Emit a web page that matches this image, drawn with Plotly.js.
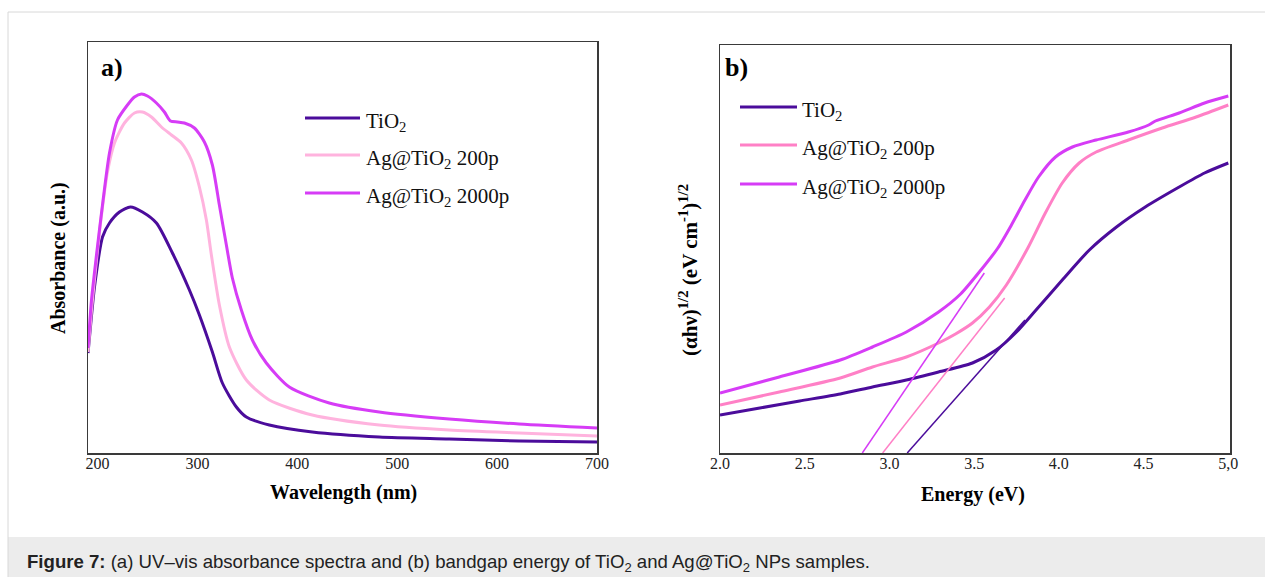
<!DOCTYPE html>
<html>
<head>
<meta charset="utf-8">
<script src="https://cdn.plot.ly/plotly-3.0.1.min.js"></script>
<style>html,body{margin:0;padding:0;background:#fff;}#chart{width:1265px;height:577px;}</style>
</head>
<body>
<div id="chart"></div>
<script>
// ---- Panel a: UV-vis absorbance (a.u.) ----
const wlTiO2 = [190.5,192,197,205,212,222,233,245,259,275,292,302,315,325,339,349,372,415,482,552,622,700];
const absTiO2 = [1.00,1.16,1.66,2.16,2.30,2.41,2.46,2.41,2.30,2.00,1.63,1.38,1.01,0.70,0.46,0.36,0.28,0.21,0.16,0.14,0.12,0.11];

const wl200 = [190.5,194,199,204,210,217,227,237,245,254,264,274,284,294,302,309,314,322,332,349,372,415,482,552,622,700];
const abs200 = [1.01,1.43,1.93,2.38,2.81,3.10,3.30,3.40,3.41,3.36,3.26,3.18,3.10,2.93,2.66,2.33,1.98,1.48,1.06,0.73,0.53,0.38,0.28,0.23,0.20,0.17];

const wl2000 = [190.5,194,199,205,212,220,230,237,244,250,259,267,273,280,287,297,307,315,322,329,335,344,355,369,392,432,482,552,622,700];
const abs2000 = [1.05,1.53,1.98,2.48,3.00,3.33,3.48,3.56,3.59,3.57,3.50,3.41,3.32,3.31,3.30,3.25,3.11,2.88,2.48,2.08,1.75,1.43,1.13,0.90,0.66,0.50,0.41,0.34,0.29,0.25];

const wlTicks = [200,300,400,500,600,700];

// ---- Panel b: Tauc plot (αhν)^1/2 ----
const eTiO2 = [2.00,2.235,2.47,2.71,2.90,3.10,3.29,3.49,3.63,3.75,3.86,4.02,4.18,4.34,4.51,4.71,4.86,5.00];
const tTiO2 = [0.38,0.45,0.52,0.59,0.66,0.73,0.81,0.90,1.03,1.21,1.42,1.73,2.03,2.26,2.46,2.66,2.80,2.90];

const e200 = [2.00,2.35,2.71,2.90,3.10,3.29,3.39,3.49,3.59,3.69,3.82,3.92,4.02,4.12,4.22,4.41,4.61,4.81,5.00];
const t200 = [0.48,0.61,0.75,0.86,0.96,1.10,1.19,1.30,1.46,1.68,2.06,2.40,2.70,2.90,3.01,3.13,3.25,3.36,3.48];

const e2000 = [2.00,2.35,2.71,2.90,3.10,3.29,3.42,3.54,3.64,3.72,3.80,3.88,3.98,4.08,4.22,4.41,4.53,4.57,4.71,4.86,5.00];
const t2000 = [0.60,0.76,0.93,1.06,1.21,1.41,1.59,1.83,2.05,2.28,2.53,2.76,2.96,3.06,3.13,3.21,3.28,3.32,3.40,3.50,3.57];

// linear fits (tangent lines) – endpoints
const fitTiO2E = [3.105,3.80], fitTiO2T = [0,1.33];
const fit200E = [2.96,3.68],   fit200T = [0,1.55];
const fit2000E = [2.84,3.56],  fit2000T = [0,1.80];

const eTicks = [2.0,2.5,3.0,3.5,4.0,4.5,5.0];
const eTickText = ['2.0','2.5','3.0','3.5','4.0','4.5','5,0'];

const names = ['TiO<sub>2</sub>','Ag@TiO<sub>2</sub> 200p','Ag@TiO<sub>2</sub> 2000p'];

const cTiO2 = '#4b0c9b', c200a = '#ffb3de', c200b = '#ff80c6', c2000 = '#d63cf6';
const serif = 'Liberation Serif';

const sp = {shape:'spline', smoothing:0.7};
const traces = [
  {x: wlTiO2, y: absTiO2, name: names[0], mode:'lines', line:Object.assign({color:cTiO2,width:3},sp), xaxis:'x', yaxis:'y'},
  {x: wl200, y: abs200, name: names[1], mode:'lines', line:Object.assign({color:c200a,width:3},sp), xaxis:'x', yaxis:'y'},
  {x: wl2000, y: abs2000, name: names[2], mode:'lines', line:Object.assign({color:c2000,width:3},sp), xaxis:'x', yaxis:'y'},
  {x: eTiO2, y: tTiO2, name: names[0], mode:'lines', line:Object.assign({color:cTiO2,width:3},sp), xaxis:'x2', yaxis:'y2'},
  {x: e200, y: t200, name: names[1], mode:'lines', line:Object.assign({color:c200b,width:3},sp), xaxis:'x2', yaxis:'y2'},
  {x: e2000, y: t2000, name: names[2], mode:'lines', line:Object.assign({color:c2000,width:3},sp), xaxis:'x2', yaxis:'y2'},
  {x: fitTiO2E, y: fitTiO2T, name:'fit', mode:'lines', line:{color:cTiO2,width:1.5}, xaxis:'x2', yaxis:'y2'},
  {x: fit200E, y: fit200T, name:'fit', mode:'lines', line:{color:c200b,width:1.5}, xaxis:'x2', yaxis:'y2'},
  {x: fit2000E, y: fit2000T, name:'fit', mode:'lines', line:{color:c2000,width:1.5}, xaxis:'x2', yaxis:'y2'}
];

const W = 1265, H = 577;
const px = v => v / W, py = v => 1 - v / H;

function axisCommon() {
  return {showline:true, mirror:true, linecolor:'#3a3a3a', linewidth:1.5, showgrid:false, zeroline:false, ticks:'',
          ticklabelstandoff:-5, tickfont:{family:serif,size:16,color:'#222'}};
}

// Manual legends (longer key lines as in the original figure)
const legendA = {x0:305, x1:360, tx:364, ys:[118,155,193], colors:[cTiO2,c200a,c2000]};
const legendB = {x0:740, x1:797, tx:800, ys:[107,145,184], colors:[cTiO2,c200b,c2000]};

const shapes = [
  {type:'rect', xref:'paper', yref:'paper', x0:px(8), x1:1, y0:0, y1:py(537), fillcolor:'#ececec', line:{width:0}, layer:'below'},
  {type:'line', xref:'paper', yref:'paper', x0:px(8), x1:1, y0:py(12), y1:py(12), line:{color:'#d8d8d8', width:1}},
  {type:'line', xref:'paper', yref:'paper', x0:px(8), x1:px(8), y0:0, y1:py(12), line:{color:'#d8d8d8', width:1}}
];
const annotations = [
  {text:'<b>a)</b>', xref:'paper', yref:'paper', x:px(99), y:py(67), xanchor:'left', yanchor:'middle', showarrow:false, font:{family:serif,size:26,color:'#000'}},
  {text:'<b>b)</b>', xref:'paper', yref:'paper', x:px(723), y:py(67), xanchor:'left', yanchor:'middle', showarrow:false, font:{family:serif,size:26,color:'#000'}},
  {text:'<b>Wavelength (nm)</b>', xref:'paper', yref:'paper', x:px(343), y:py(492), xanchor:'center', yanchor:'middle', showarrow:false, font:{family:serif,size:20,color:'#000'}},
  {text:'<b>Absorbance (a.u.)</b>', xref:'paper', yref:'paper', x:px(58), y:py(258), xanchor:'center', yanchor:'middle', textangle:-90, showarrow:false, font:{family:serif,size:20,color:'#000'}},
  {text:'<b>Energy (eV)</b>', xref:'paper', yref:'paper', x:px(973), y:py(494), xanchor:'center', yanchor:'middle', showarrow:false, font:{family:serif,size:20,color:'#000'}},
  {text:'<b>(αhν)<sup>1/2</sup> (eV cm<sup>-1</sup>)<sup>1/2</sup></b>', xref:'paper', yref:'paper', x:px(688), y:py(270), xanchor:'center', yanchor:'middle', textangle:-90, showarrow:false, font:{family:serif,size:21,color:'#000'}},
  {text:'<b>Figure 7:</b> (a) UV–vis absorbance spectra and (b) bandgap energy of TiO<sub>2</sub> and Ag@TiO<sub>2</sub> NPs samples.', xref:'paper', yref:'paper', x:px(25), y:py(563), xanchor:'left', yanchor:'middle', showarrow:false, font:{family:'Liberation Sans, Arial, sans-serif',size:18.6,color:'#222'}}
];
[legendA, legendB].forEach(L => {
  L.ys.forEach((yy, i) => {
    shapes.push({type:'line', xref:'paper', yref:'paper', x0:px(L.x0), x1:px(L.x1), y0:py(yy), y1:py(yy), line:{color:L.colors[i], width:3}});
    annotations.push({text:names[i], xref:'paper', yref:'paper', x:px(L.tx), y:py(yy+4), xanchor:'left', yanchor:'middle', showarrow:false, font:{family:serif,size:21,color:'#111'}});
  });
});

const layout = {
  width: W, height: H,
  margin:{l:0,r:0,t:0,b:0},
  paper_bgcolor:'#ffffff', plot_bgcolor:'#ffffff',
  showlegend:false,
  xaxis: Object.assign(axisCommon(), {domain:[px(88), px(597)], range:[190.5,700], tickvals:wlTicks, anchor:'y'}),
  yaxis: Object.assign(axisCommon(), {domain:[py(453), py(42)], range:[0,4.11], showticklabels:false, anchor:'x'}),
  xaxis2: Object.assign(axisCommon(), {domain:[px(720), px(1230)], range:[2,5.01], tickvals:eTicks, ticktext:eTickText, anchor:'y2'}),
  yaxis2: Object.assign(axisCommon(), {domain:[py(453), py(45)], range:[0,4.08], showticklabels:false, anchor:'x2'}),
  shapes: shapes,
  annotations: annotations
};

Plotly.newPlot('chart', traces, layout, {staticPlot:true, displayModeBar:false});
</script>
</body>
</html>
